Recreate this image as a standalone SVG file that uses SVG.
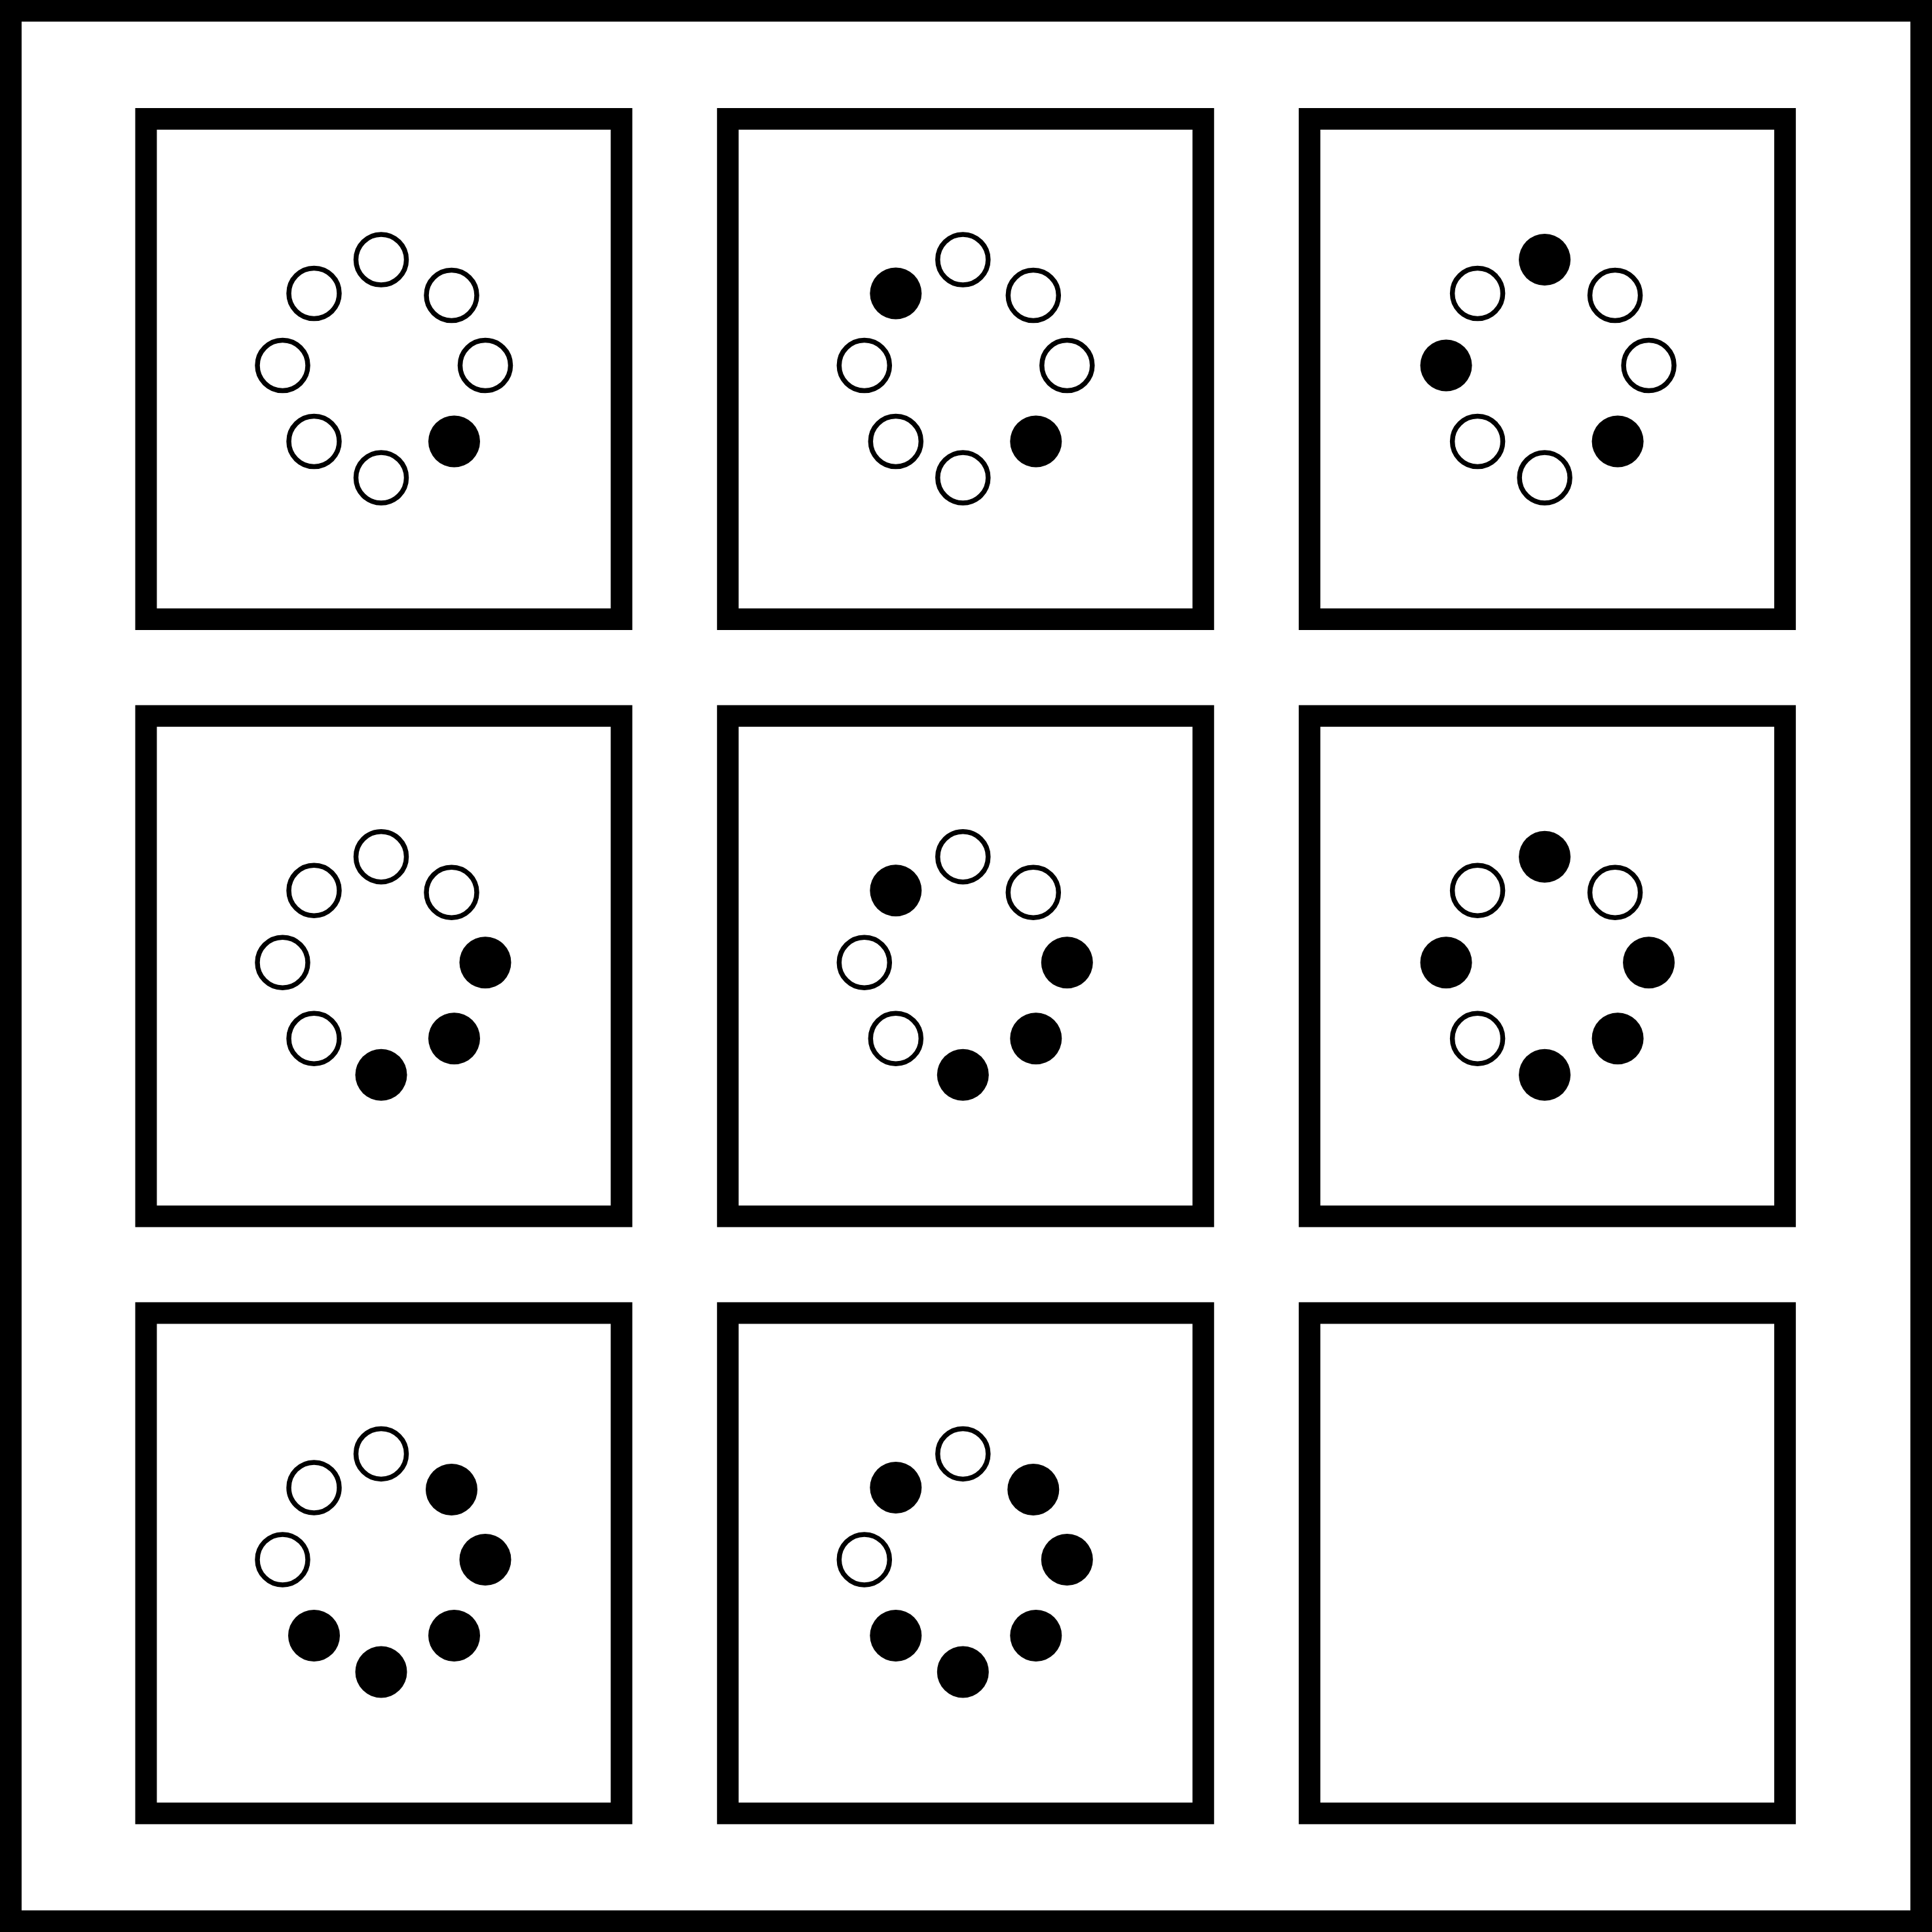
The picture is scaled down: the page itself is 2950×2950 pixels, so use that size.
<svg xmlns="http://www.w3.org/2000/svg" xmlns:xlink="http://www.w3.org/1999/xlink" width="2950" height="2950" viewBox="0 0 2950 2950">
  <style>
    .frame { fill: none; stroke: #000; stroke-width: 33; }
    .panel { fill: none; stroke: #000; stroke-width: 33; }
    .o { fill: #fff; stroke: #000; stroke-width: 7.5; }
    .f { fill: #000; stroke: none; }
  </style>
  <defs>
    <circle id="oc" r="38.5" class="o"/>
    <circle id="fc" r="39.5" class="f"/>
  </defs>
  <rect x="0" y="0" width="2950" height="2950" fill="#fff"/>
  <rect class="frame" x="16.5" y="16.5" width="2917" height="2917"/>

  <!-- Row 1 -->
  <g id="panel-1" transform="translate(586,563.5)">
    <rect class="panel" x="-363" y="-382" width="726" height="764"/>
    <use xlink:href="#oc" x="-4" y="-167"/>
    <use xlink:href="#oc" x="103.5" y="-112.5"/>
    <use xlink:href="#oc" x="155" y="-5.5"/>
    <use xlink:href="#fc" x="107.5" y="110.5"/>
    <use xlink:href="#oc" x="-4" y="166"/>
    <use xlink:href="#oc" x="-106.5" y="110.5"/>
    <use xlink:href="#oc" x="-154.5" y="-5.5"/>
    <use xlink:href="#oc" x="-106.5" y="-115.5"/>
  </g>
  <g id="panel-2" transform="translate(1474.3,563.5)">
    <rect class="panel" x="-363" y="-382" width="726" height="764"/>
    <use xlink:href="#oc" x="-4" y="-167"/>
    <use xlink:href="#oc" x="103.5" y="-112.5"/>
    <use xlink:href="#oc" x="155" y="-5.5"/>
    <use xlink:href="#fc" x="107.5" y="110.5"/>
    <use xlink:href="#oc" x="-4" y="166"/>
    <use xlink:href="#oc" x="-106.5" y="110.5"/>
    <use xlink:href="#oc" x="-154.5" y="-5.5"/>
    <use xlink:href="#fc" x="-106.5" y="-115.5"/>
  </g>
  <g id="panel-3" transform="translate(2362.6,563.5)">
    <rect class="panel" x="-363" y="-382" width="726" height="764"/>
    <use xlink:href="#fc" x="-4" y="-167"/>
    <use xlink:href="#oc" x="103.5" y="-112.5"/>
    <use xlink:href="#oc" x="155" y="-5.5"/>
    <use xlink:href="#fc" x="107.5" y="110.5"/>
    <use xlink:href="#oc" x="-4" y="166"/>
    <use xlink:href="#oc" x="-106.5" y="110.5"/>
    <use xlink:href="#fc" x="-154.5" y="-5.5"/>
    <use xlink:href="#oc" x="-106.5" y="-115.5"/>
  </g>

  <!-- Row 2 -->
  <g id="panel-4" transform="translate(586,1475.2)">
    <rect class="panel" x="-363" y="-382" width="726" height="764"/>
    <use xlink:href="#oc" x="-4" y="-167"/>
    <use xlink:href="#oc" x="103.5" y="-112.5"/>
    <use xlink:href="#fc" x="155" y="-5.5"/>
    <use xlink:href="#fc" x="107.5" y="110.5"/>
    <use xlink:href="#fc" x="-4" y="166"/>
    <use xlink:href="#oc" x="-106.5" y="110.5"/>
    <use xlink:href="#oc" x="-154.5" y="-5.5"/>
    <use xlink:href="#oc" x="-106.5" y="-115.5"/>
  </g>
  <g id="panel-5" transform="translate(1474.3,1475.2)">
    <rect class="panel" x="-363" y="-382" width="726" height="764"/>
    <use xlink:href="#oc" x="-4" y="-167"/>
    <use xlink:href="#oc" x="103.5" y="-112.5"/>
    <use xlink:href="#fc" x="155" y="-5.5"/>
    <use xlink:href="#fc" x="107.5" y="110.5"/>
    <use xlink:href="#fc" x="-4" y="166"/>
    <use xlink:href="#oc" x="-106.5" y="110.5"/>
    <use xlink:href="#oc" x="-154.5" y="-5.5"/>
    <use xlink:href="#fc" x="-106.5" y="-115.5"/>
  </g>
  <g id="panel-6" transform="translate(2362.6,1475.2)">
    <rect class="panel" x="-363" y="-382" width="726" height="764"/>
    <use xlink:href="#fc" x="-4" y="-167"/>
    <use xlink:href="#oc" x="103.5" y="-112.5"/>
    <use xlink:href="#fc" x="155" y="-5.5"/>
    <use xlink:href="#fc" x="107.5" y="110.5"/>
    <use xlink:href="#fc" x="-4" y="166"/>
    <use xlink:href="#oc" x="-106.5" y="110.5"/>
    <use xlink:href="#fc" x="-154.5" y="-5.5"/>
    <use xlink:href="#oc" x="-106.5" y="-115.5"/>
  </g>

  <!-- Row 3 -->
  <g id="panel-7" transform="translate(586,2386.9)">
    <rect class="panel" x="-363" y="-382" width="726" height="764"/>
    <use xlink:href="#oc" x="-4" y="-167"/>
    <use xlink:href="#fc" x="103.5" y="-112.5"/>
    <use xlink:href="#fc" x="155" y="-5.5"/>
    <use xlink:href="#fc" x="107.5" y="110.5"/>
    <use xlink:href="#fc" x="-4" y="166"/>
    <use xlink:href="#fc" x="-106.5" y="110.5"/>
    <use xlink:href="#oc" x="-154.5" y="-5.5"/>
    <use xlink:href="#oc" x="-106.5" y="-115.5"/>
  </g>
  <g id="panel-8" transform="translate(1474.3,2386.9)">
    <rect class="panel" x="-363" y="-382" width="726" height="764"/>
    <use xlink:href="#oc" x="-4" y="-167"/>
    <use xlink:href="#fc" x="103.5" y="-112.5"/>
    <use xlink:href="#fc" x="155" y="-5.5"/>
    <use xlink:href="#fc" x="107.5" y="110.5"/>
    <use xlink:href="#fc" x="-4" y="166"/>
    <use xlink:href="#fc" x="-106.5" y="110.5"/>
    <use xlink:href="#oc" x="-154.5" y="-5.5"/>
    <use xlink:href="#fc" x="-106.5" y="-115.5"/>
  </g>
  <g id="panel-9" transform="translate(2362.6,2386.9)">
    <rect class="panel" x="-363" y="-382" width="726" height="764"/>
  </g>

  <g id="connectors"/>
</svg>
